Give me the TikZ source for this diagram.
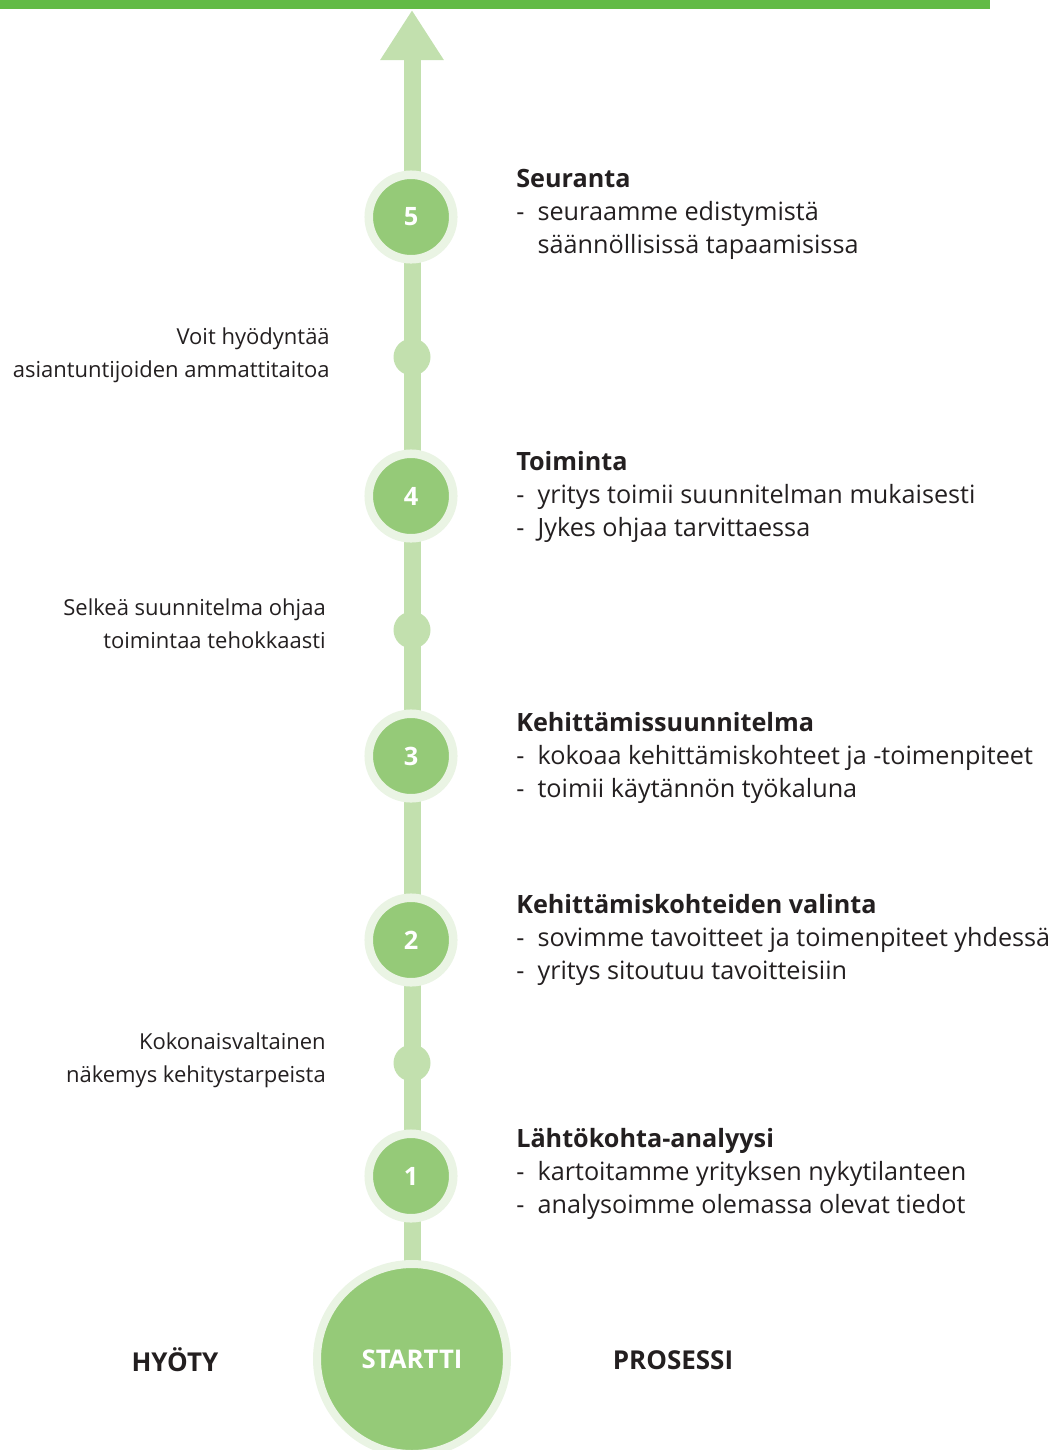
\documentclass[tikz,border=0pt]{standalone}
\usepackage{fontspec}
\setmainfont{Open Sans}
\usepackage{tikz}
\usetikzlibrary{arrows.meta}
\definecolor{topbar}{HTML}{62BB46}
\definecolor{trackgreen}{HTML}{C2E0AE}
\definecolor{stepgreen}{HTML}{95CA78}
\definecolor{ringgreen}{HTML}{EAF4E4}
\definecolor{ink}{HTML}{231F20}
\newcommand{\bulletline}[1]{\makebox[16pt][l]{-}#1}

\begin{document}
\begin{tikzpicture}[
        x=0.75pt, y=-0.75pt,
        stepnode/.style={
            circle,
            fill=stepgreen,
            draw=ringgreen,
            line width=6.4pt,
            minimum size=63.4pt,
            inner sep=0pt,
            text=white,
            font=\bfseries\fontsize{19}{19}\selectfont
        },
        startnode/.style={
            stepnode,
            line width=6pt,
            minimum size=142.5pt,
            font=\bfseries\fontsize{19.3}{19.3}\selectfont
        },
        waypoint/.style={
            circle,
            fill=trackgreen,
            minimum size=27.75pt,
            inner sep=0pt
        },
        track/.style={
            draw=trackgreen,
            line width=12.75pt,
            -{Triangle[width=45pt,length=37.5pt]}
        },
        desc/.style={
            anchor=base west,
            align=left,
            inner sep=0pt,
            text=ink,
            font=\fontsize{18.9}{24.75}\selectfont
        },
        gain/.style={
            anchor=base east,
            align=right,
            inner sep=0pt,
            text=ink,
            font=\fontsize{16.5}{24.75}\selectfont
        },
        heading/.style={
            inner sep=0pt,
            text=ink,
            font=\bfseries\fontsize{19.5}{19.5}\selectfont
        }
    ]
        \clip (0,0) rectangle (1056,1450);

        % Top bar
        \fill[topbar] (0,0) rectangle (990,9);

        % Track and its arrow
        \coordinate (start) at (412,1359);
        \coordinate (goal) at (412,10);
        \draw[track] (start) -- (goal);

        % Waypoints between the steps
        \node[waypoint] (wpA) at (412,357) {};
        \node[waypoint] (wpB) at (412,630) {};
        \node[waypoint] (wpC) at (412,1063) {};

        % Steps
        \node[startnode] (startti) at (start) {STARTTI};
        \node[stepnode] (s1) at (411,1176) {1};
        \node[stepnode] (s2) at (411,940) {2};
        \node[stepnode] (s3) at (411,756) {3};
        \node[stepnode] (s4) at (411,496) {4};
        \node[stepnode] (s5) at (411,217) {5};

        % Process descriptions (anchored at the last line)
        \node[desc] (d5) at (516,253) {\textbf{Seuranta}\\
            \bulletline{seuraamme edistymistä}\\
            \hspace*{16pt}säännöllisissä tapaamisissa};
        \node[desc] (d4) at (516,536) {\textbf{Toiminta}\\
            \bulletline{yritys toimii suunnitelman mukaisesti}\\
            \bulletline{Jykes ohjaa tarvittaessa}};
        \node[desc] (d3) at (516,797) {\textbf{Kehittämissuunnitelma}\\
            \bulletline{kokoaa kehittämiskohteet ja -toimenpiteet}\\
            \bulletline{toimii käytännön työkaluna}};
        \node[desc] (d2) at (516,979) {\textbf{Kehittämiskohteiden valinta}\\
            \bulletline{sovimme tavoitteet ja toimenpiteet yhdessä}\\
            \bulletline{yritys sitoutuu tavoitteisiin}};
        \node[desc] (d1) at (516,1213) {\textbf{Lähtökohta-analyysi}\\
            \bulletline{kartoitamme yrityksen nykytilanteen}\\
            \bulletline{analysoimme olemassa olevat tiedot}};

        % Benefits
        \node[gain] (gA) at (330,377) {Voit hyödyntää\\asiantuntijoiden ammattitaitoa};
        \node[gain] (gB) at (326,648) {Selkeä suunnitelma ohjaa\\toimintaa tehokkaasti};
        \node[gain] (gC) at (326,1082) {Kokonaisvaltainen\\näkemys kehitystarpeista};

        % Column headings
        \node[heading] (hyoty) at (175,1360) {HYÖTY};
        \node[heading] (prosessi) at (673,1360) {PROSESSI};
    \end{tikzpicture}
\end{document}
